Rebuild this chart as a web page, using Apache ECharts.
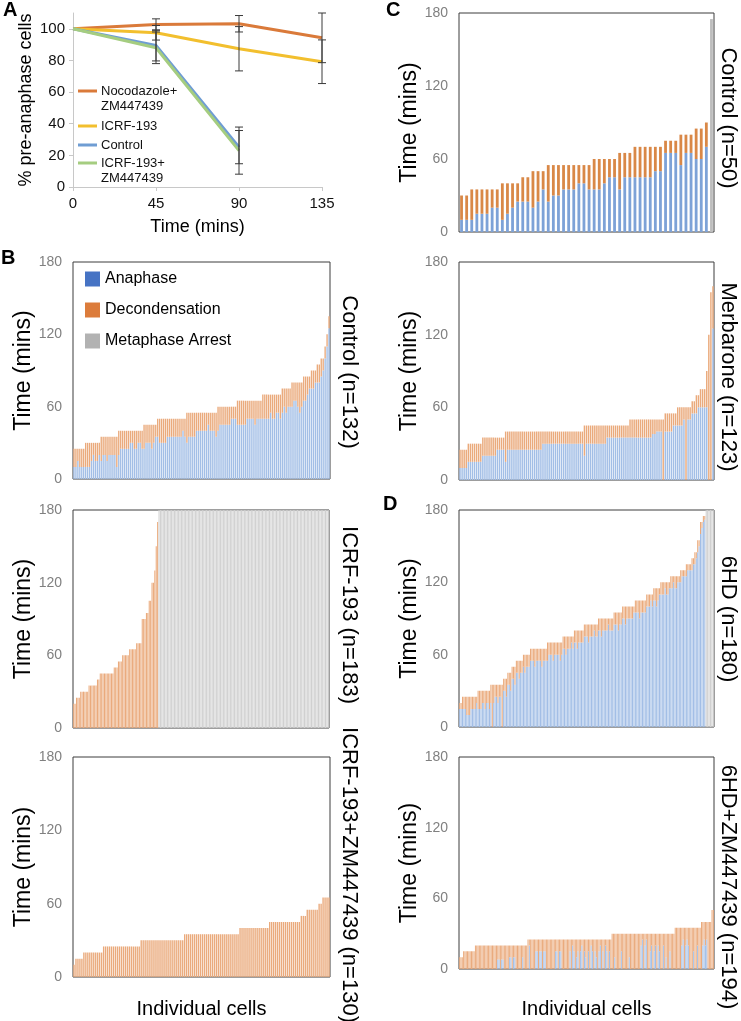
<!DOCTYPE html>
<html><head><meta charset="utf-8">
<script src="https://cdn.jsdelivr.net/npm/echarts/dist/echarts.min.js"></script>
<style>html,body{margin:0;padding:0;background:#fff}#c{width:741px;height:1021px}</style>
</head><body><div id="c"></div>
<script>
// ---------- Panel A: % pre-anaphase cells over time ----------
const timePoints = [0, 45, 90, 135];
const nocoZmMean = [100, 102.7, 103.2, 94.3];
const nocoZmErr = [0, 3.6, 5.2, 15.7];
const icrfMean = [100, 97.5, 87.4, 79.2];
const icrfErr = [0, 4.6, 14, 13.8];
const controlMean = [100, 89.5, 25.2];
const controlErr = [0, 9.8, 10.5];
const icrfZmMean = [100, 88, 23];
const icrfZmErr = [0, 10, 14.9];

// ---------- Panel B: Control (n=132) ----------
const bControlTotal = [
25,25,25,25,25,25,
30,30,30,30,30,30,30,30,
35,35,35,35,35,35,35,35,35,
40,40,40,40,40,40,40,40,40,40,40,40,40,
45,45,45,45,45,45,45,
50,50,50,50,50,50,50,50,50,50,50,50,50,50,50,
55,55,55,55,55,55,55,55,55,55,55,55,55,55,55,55,
60,60,60,60,60,60,60,60,60,60,
65,65,65,65,65,65,65,65,65,65,65,65,65,
70,70,70,70,70,70,70,70,70,70,
75,75,75,75,75,
80,80,80,80,80,80,
85,85,85,85,
90,90,90,
95,95,
100,100,
110,120,135];
const bControlAnaphase = [
10,10,15,10,10,10,
10,10,10,15,20,15,15,20,
15,20,20,15,20,20,20,20,10,
20,25,25,25,25,25,30,30,25,25,30,30,25,
25,30,30,30,25,30,35,
35,30,30,30,30,35,35,35,35,35,35,35,35,40,35,
30,35,35,35,35,40,40,40,40,40,40,45,40,40,40,35,
40,45,45,45,45,45,45,50,50,50,
45,45,45,45,45,50,50,50,50,45,50,50,50,
50,50,50,50,55,50,50,55,55,50,
55,60,55,60,60,
60,65,65,60,55,60,
65,65,70,75,
75,75,80,
80,80,
85,90,
100,110,125];

// ---------- Panel B: ICRF-193 (n=183) ----------
const bIcrfTotal = [20,20,25,25,25,30,30,30,30,30,30,35,35,35,35,35,35,40,40,
45,45,45,45,45,45,45,45,45,45,50,50,50,55,55,55,60,60,60,60,60,65,65,65,65,65,
70,70,70,70,90,90,90,95,95,105,105,120,120,130,150,170];
const bIcrfArrest = [
180,180,180,180,180,180,180,180,180,180,
180,180,180,180,180,180,180,180,180,180,
180,180,180,180,180,180,180,180,180,180,
180,180,180,180,180,180,180,180,180,180,
180,180,180,180,180,180,180,180,180,180,
180,180,180,180,180,180,180,180,180,180,
180,180,180,180,180,180,180,180,180,180,
180,180,180,180,180,180,180,180,180,180,
180,180,180,180,180,180,180,180,180,180,
180,180,180,180,180,180,180,180,180,180,
180,180,180,180,180,180,180,180,180,180,
180,180,180,180,180,180,180,180,180,180,
180,180];

// ---------- Panel B: ICRF-193+ZM447439 (n=130) ----------
const bIcrfZmTotal = [
10,
15,15,15,15,
20,20,20,20,20,20,20,20,20,20,
25,25,25,25,25,25,25,25,25,25,25,25,25,25,25,25,25,25,25,
30,30,30,30,30,30,30,30,30,30,30,30,30,30,30,30,30,30,30,30,30,30,
35,35,35,35,35,35,35,35,35,35,35,35,35,35,35,35,35,35,35,35,35,35,35,35,35,35,35,35,
40,40,40,40,40,40,40,40,40,40,40,40,40,40,40,
45,45,45,45,45,45,45,45,45,45,45,45,45,45,45,45,
50,50,50,
55,55,55,55,55,55,
60,60,
65,65,65,65];

// ---------- Panel C: Control (n=50) ----------
const cControlTotal = [30,30,35,35,35,35,35,35,40,40,40,40,45,45,50,50,50,
55,55,55,55,55,55,55,55,55,60,60,60,60,60,65,65,65,70,70,70,70,70,70,
75,75,75,80,80,80,85,85,90];
const cControlAnaphase = [10,10,10,15,15,15,20,20,10,15,20,25,25,25,20,25,35,
25,30,30,35,35,35,40,40,35,35,35,40,45,45,35,45,45,45,45,45,45,50,50,
65,65,65,55,65,65,60,60,70];
const cControlArrest = [175];

// ---------- Panel C: Merbarone (n=123) ----------
const cMerbTotal = [
25,25,25,25,
30,30,30,30,30,30,30,
35,35,35,35,35,35,35,35,35,35,35,
40,40,40,40,40,40,40,40,40,40,40,40,40,40,40,40,40,40,40,40,40,40,40,40,40,40,40,40,40,40,40,40,40,40,40,40,40,40,
45,45,45,45,45,45,45,45,45,45,45,45,45,45,45,45,45,45,45,45,45,45,
50,50,50,50,50,50,50,50,50,50,50,50,50,50,50,50,50,
55,55,55,55,55,55,
60,60,60,60,60,60,60,
65,65,
70,70,
75,75,75,
90,120,155,160];
const cMerbAnaphase = [
10,10,10,10,
15,15,15,15,15,15,15,
20,20,20,20,20,20,20,25,25,25,25,
15,25,25,25,25,25,25,25,25,25,25,25,25,25,25,25,25,25,30,30,30,30,30,30,30,30,30,30,30,30,30,30,30,30,30,30,30,30,
20,30,30,30,30,30,30,30,30,30,30,35,35,35,35,35,35,35,35,35,35,35,
35,35,35,35,35,35,35,35,35,35,35,38,38,40,40,40,0,
40,40,40,40,45,45,
45,45,45,50,0,50,50,
55,55,
55,60,
60,60,60,
60,0,0,125];

// ---------- Panel D: 6HD (n=180) ----------
const dSixTotal = [
20,20,
25,25,25,25,25,25,25,25,25,25,25,
30,30,30,30,30,30,30,30,30,
35,35,35,35,35,35,35,35,35,
40,40,40,
45,45,45,
50,50,50,
55,55,55,55,55,
60,60,60,60,60,
65,65,65,65,65,65,65,65,65,65,65,65,
70,70,70,70,70,70,70,70,70,70,70,
75,75,75,75,75,75,75,75,
80,80,80,80,80,80,80,
85,85,85,85,85,85,85,85,85,85,
90,90,90,90,90,90,90,90,90,90,90,
95,95,95,95,95,95,
100,100,100,100,100,100,100,100,100,
105,105,105,105,105,105,105,105,
110,110,110,110,110,
115,115,115,115,115,
120,120,120,120,120,120,120,
125,125,125,125,125,125,125,
130,130,130,130,
135,135,135,135,
140,140,
145,145,
155,155,
170,170,
175,175];
const dSixAnaphase = [
15,15,
15,15,15,10,10,10,15,15,15,15,20,
15,15,15,20,20,15,20,20,15,
20,0,20,25,25,20,25,25,0,
30,30,25,
35,35,30,
40,40,35,
45,45,40,45,45,
50,45,50,50,50,
55,55,55,50,55,55,55,55,50,55,55,55,
55,60,60,60,55,60,60,60,60,55,60,
65,65,60,65,65,65,70,65,
70,70,65,70,70,70,70,
75,75,75,70,75,75,75,80,75,75,
80,80,75,80,80,80,80,85,80,80,80,
85,85,85,80,85,85,
90,90,85,90,90,90,90,90,95,
95,95,95,90,95,95,95,95,
100,100,100,105,100,
105,105,100,105,110,
110,110,110,115,110,110,115,
115,115,120,115,115,120,120,
120,125,125,125,
125,130,130,130,
130,135,
135,140,
145,150,
160,165,
170,172];
const dSixArrest = [180,180,180,180,180,180];

// ---------- Panel D: 6HD+ZM447439 (n=194) ----------
const dSixZmTotal = [
10,10,10,
15,15,15,15,15,15,15,15,15,
20,20,20,20,20,20,20,20,20,20,20,20,20,20,20,20,20,20,20,20,20,20,20,20,20,20,20,20,20,20,20,20,20,20,20,20,20,20,20,20,
25,25,25,25,25,25,25,25,25,25,25,25,25,25,25,25,25,25,25,25,25,25,25,25,25,25,25,25,25,25,25,25,
25,25,25,25,25,25,25,25,25,25,25,25,25,25,25,25,25,25,25,25,25,25,25,25,25,25,25,25,25,25,25,25,
30,30,30,30,30,30,30,30,30,30,30,30,30,30,30,30,30,30,30,30,30,30,30,30,
30,30,30,30,30,30,30,30,30,30,30,30,30,30,30,30,30,30,30,30,30,30,30,30,
35,35,35,35,35,35,35,35,35,35,35,35,35,35,35,35,35,35,35,35,
40,40,40,40,40,40,40,40,
50,50];
const dSixZmAnaphase = [
0,0,0,
0,0,0,0,0,0,0,0,0,
0,0,0,0,0,0,0,0,0,0,0,0,0,0,0,0,0,8,8,0,8,8,0,0,0,0,10,10,0,10,10,0,0,0,0,0,10,0,0,0,
0,20,0,0,0,0,15,15,0,15,15,0,15,15,0,0,0,0,0,0,0,15,15,0,15,15,0,0,0,0,0,0,
15,0,20,15,0,10,15,0,15,20,0,15,10,0,15,0,20,15,0,15,10,0,15,20,0,15,0,20,15,0,15,0,
0,0,10,0,0,0,0,15,0,0,0,0,0,10,0,0,0,0,0,0,0,0,20,25,
0,20,25,0,0,15,20,0,15,20,0,20,15,0,0,20,0,10,0,0,15,0,0,0,
0,0,0,0,0,20,25,0,20,25,20,0,0,0,15,0,0,20,0,0,
0,20,25,20,25,0,0,0,
0,0];

const FONT = "'Liberation Sans', Arial, Helvetica, sans-serif";
const MID = {ana:'#7DA2D7', dec:'#D98847', arr:'#BDBDBD'};
const PALE = {ana:'#A2BEE6', dec:'#EAAA7C', arr:'#D0D0D0'};

const panels = [
  {label:'Control (n=132)', total:bControlTotal, ana:bControlAnaphase, arrest:[], box:[73,262,257,217], lab:[349,372], gap:'30%', col:PALE},
  {label:'ICRF-193 (n=183)', total:bIcrfTotal, ana:[], arrest:bIcrfArrest, box:[73,510,256,218], lab:[349,615], gap:'25%', col:PALE},
  {label:'ICRF-193+ZM447439 (n=130)', total:bIcrfZmTotal, ana:[], arrest:[], box:[73,757,257,220], lab:[349,875], gap:'30%', xname:22, col:PALE},
  {label:'Control (n=50)', total:cControlTotal, ana:cControlAnaphase, arrest:cControlArrest, box:[459,13,255,219], lab:[728,118], gap:'45%', col:MID},
  {label:'Merbarone (n=123)', total:cMerbTotal, ana:cMerbAnaphase, arrest:[], box:[459,262,255,218], lab:[728,377], gap:'30%', col:PALE},
  {label:'6HD (n=180)', total:dSixTotal, ana:dSixAnaphase, arrest:dSixArrest, box:[459,510,255,217], lab:[728,619], gap:'25%', col:PALE},
  {label:'6HD+ZM447439 (n=194)', total:dSixZmTotal, ana:dSixZmAnaphase, arrest:[], box:[459,757,255,212], lab:[728,887], gap:'25%', xname:30, col:PALE}
];

const grids = [{left:73, top:13, width:249, height:174, outerBoundsMode:'none'}];
const xAxes = [{
  gridIndex:0, type:'value', min:0, max:135, interval:45,
  axisLine:{lineStyle:{color:'#c8c8c8'}}, axisTick:{show:true, length:4, lineStyle:{color:'#c8c8c8'}},
  axisLabel:{color:'#111', fontSize:15, margin:9, fontFamily:FONT}, splitLine:{show:false},
  name:'Time (mins)', nameLocation:'middle', nameGap:31, nameTextStyle:{color:'#000', fontSize:18, fontFamily:FONT}
}];
const yAxes = [{
  gridIndex:0, type:'value', min:0, max:110, interval:20,
  axisLine:{show:true, lineStyle:{color:'#c8c8c8'}}, axisTick:{show:true, length:4, lineStyle:{color:'#c8c8c8'}},
  axisLabel:{color:'#111', fontSize:15, margin:8, showMaxLabel:false, fontFamily:FONT}, splitLine:{show:false},
  name:'% pre-anaphase cells', nameLocation:'middle', nameGap:38, nameTextStyle:{color:'#000', fontSize:18, fontFamily:FONT}
}];
const series = [];

function lineSeries(name, mean, color) {
  return {type:'line', name, xAxisIndex:0, yAxisIndex:0, symbol:'none', z:3,
    data: mean.map((v,i)=>[timePoints[i], v]), lineStyle:{color, width:3}, itemStyle:{color}};
}
series.push(lineSeries('Nocodazole+ZM447439', nocoZmMean, '#DA7A3A'));
series.push(lineSeries('ICRF-193', icrfMean, '#F2BF2E'));
series.push(lineSeries('Control', controlMean, '#6F9DD3'));
series.push(lineSeries('ICRF-193+ZM447439', icrfZmMean, '#A5CD80'));
const errData = [];
[[nocoZmMean,nocoZmErr],[icrfMean,icrfErr],[controlMean,controlErr],[icrfZmMean,icrfZmErr]].forEach(([m,e])=>{
  m.forEach((v,i)=>{ if (e[i] > 0) errData.push([timePoints[i], v - e[i], v + e[i]]); });
});
series.push({type:'custom', name:'err', xAxisIndex:0, yAxisIndex:0, z:4, encode:{x:0, y:[1,2]}, data:errData,
  renderItem:function(params, api){
    const x = api.value(0);
    const lo = api.coord([x, api.value(1)]), hi = api.coord([x, api.value(2)]);
    const w = 4, st = {stroke:'#3a3a3a', lineWidth:1};
    return {type:'group', children:[
      {type:'line', shape:{x1:hi[0], y1:hi[1], x2:lo[0], y2:lo[1]}, style:st},
      {type:'line', shape:{x1:hi[0]-w, y1:hi[1], x2:hi[0]+w, y2:hi[1]}, style:st},
      {type:'line', shape:{x1:lo[0]-w, y1:lo[1], x2:lo[0]+w, y2:lo[1]}, style:st}
    ]};
  }});

const graphic = [];
panels.forEach((p, k) => {
  const gi = k + 1;
  grids.push({left:p.box[0], top:p.box[1], width:p.box[2], height:p.box[3], show:true,
    borderColor:'#3c3c3c', borderWidth:1, backgroundColor:'transparent', outerBoundsMode:'none'});
  const n = p.total.length + p.arrest.length;
  const cats = []; for (let i = 1; i <= n; i++) cats.push(i);
  const ana = [], dec = [], arr = [];
  p.total.forEach((t, i) => { const a = p.ana[i] || 0; ana.push(a); dec.push(t - a); arr.push(0); });
  p.arrest.forEach(v => { ana.push(0); dec.push(0); arr.push(v); });
  const xa = {gridIndex:gi, type:'category', data:cats, axisLine:{show:false}, axisTick:{show:false}, axisLabel:{show:false}};
  if (p.xname) Object.assign(xa, {name:'Individual cells', nameLocation:'middle', nameGap:p.xname,
    nameTextStyle:{color:'#000', fontSize:20, fontFamily:FONT}});
  xAxes.push(xa);
  yAxes.push({gridIndex:gi, type:'value', min:0, max:180, interval:60,
    axisLine:{show:false}, axisTick:{show:false}, splitLine:{show:false},
    axisLabel:{color:'#808080', fontSize:14, margin:11, fontFamily:FONT},
    name:'Time (mins)', nameLocation:'middle', nameGap:35, nameTextStyle:{color:'#000', fontSize:23, fontFamily:FONT}});
  const common = {type:'bar', xAxisIndex:gi, yAxisIndex:gi, stack:'s'+gi, barCategoryGap:p.gap, silent:true};
  series.push(Object.assign({}, common, {name:'Anaphase', data:ana, itemStyle:{color:p.col.ana}}));
  series.push(Object.assign({}, common, {name:'Decondensation', data:dec, itemStyle:{color:p.col.dec}}));
  series.push(Object.assign({}, common, {name:'Metaphase Arrest', data:arr, itemStyle:{color:p.col.arr}}));
  graphic.push({type:'text', x:p.lab[0], y:p.lab[1], rotation:-Math.PI/2,
    style:{text:p.label, font:'22px ' + FONT, fill:'#000', align:'center', verticalAlign:'middle'}});
});

// Panel A legend
const aLegend = [
  {lines:['Nocodazole+','ZM447439'], color:'#DA7A3A', y:91},
  {lines:['ICRF-193'], color:'#F2BF2E', y:126},
  {lines:['Control'], color:'#6F9DD3', y:145},
  {lines:['ICRF-193+','ZM447439'], color:'#A5CD80', y:163}
];
aLegend.forEach(it => {
  graphic.push({type:'line', shape:{x1:78, y1:it.y, x2:97, y2:it.y}, style:{stroke:it.color, lineWidth:3}});
  it.lines.forEach((t, j) => graphic.push({type:'text', x:101, y:it.y + j*15.5,
    style:{text:t, font:'13px ' + FONT, fill:'#111', align:'left', verticalAlign:'middle'}}));
});
// Panel letters
[['A',3,0],['B',1,248],['C',386,0],['D',383,494]].forEach(([t,x,y]) => graphic.push({type:'text', x, y,
  style:{text:t, font:'bold 20px ' + FONT, fill:'#000', align:'left', verticalAlign:'top'}}));

const option = {
  animation:false,
  textStyle:{fontFamily:FONT},
  grid:grids, xAxis:xAxes, yAxis:yAxes, series, graphic,
  legend:{left:85, top:271, orient:'vertical', itemWidth:15, itemHeight:15, itemGap:15, padding:0,
    icon:'rect', selectedMode:false, textStyle:{fontSize:16, color:'#000', fontFamily:FONT},
    data:[{name:'Anaphase', itemStyle:{color:'#4673C4'}},
          {name:'Decondensation', itemStyle:{color:'#DC7C3B'}},
          {name:'Metaphase Arrest', itemStyle:{color:'#B2B2B2'}}]}
};
const chart = echarts.init(document.getElementById('c'), null, {renderer:'canvas'});
chart.setOption(option);
</script></body></html>
